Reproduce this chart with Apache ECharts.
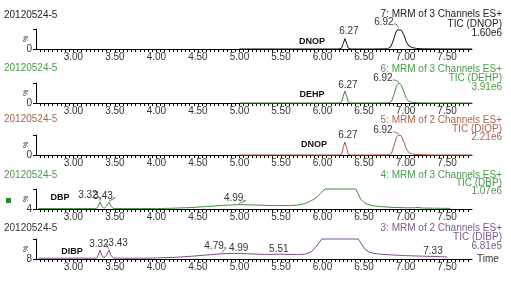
<!DOCTYPE html>
<html><head><meta charset="utf-8">
<script src="https://cdn.jsdelivr.net/npm/echarts@6/dist/echarts.min.js"></script>
<style>html,body{margin:0;padding:0;background:#fff}#c{width:511px;height:285px}</style>
</head><body><div id="c"></div>
<script>
// ---------- data ----------
const sampleName = '20120524-5';
const channelNames = ['7: MRM of 3 Channels ES+','6: MRM of 3 Channels ES+','5: MRM of 2 Channels ES+','4: MRM of 3 Channels ES+','3: MRM of 2 Channels ES+'];
const ticNames = ['TIC (DNOP)','TIC (DEHP)','TIC (DIOP)','TIC (DBP)','TIC (DIBP)'];
const intensities = ['1.60e6','3.91e6','2.21e6','1.07e6','6.81e5'];
const compounds = ['DNOP','DEHP','DNOP','DBP','DIBP'];
const yBaseLabels = ['0','0','0','4','8'];
const xTickLabels = ['3.00','3.50','4.00','4.50','5.00','5.50','6.00','6.50','7.00','7.50'];

const time1 = [5.00,5.50,6.00,6.20,6.23,6.25,6.27,6.29,6.31,6.34,6.60,6.78,6.82,6.85,6.88,6.90,6.92,6.95,6.98,7.01,7.04,7.08,7.13,7.20,7.50,7.80];
const pct1  = [0,0,0,0,4,28,52,28,4,0,0,1,10,40,80,96,100,94,70,35,15,7,3,1,0,0];

const time2 = [5.00,5.50,6.00,6.20,6.23,6.25,6.27,6.29,6.31,6.34,6.60,6.80,6.83,6.86,6.89,6.92,6.95,6.98,7.01,7.04,7.08,7.15,7.30,7.80];
const pct2  = [0,0,0,0,5,35,60,35,5,0,0,1,8,40,85,100,90,55,22,8,3,1,0,0];

const time3 = [5.00,5.50,6.00,6.20,6.23,6.25,6.27,6.29,6.31,6.34,6.60,6.80,6.83,6.86,6.89,6.92,6.95,6.98,7.01,7.04,7.08,7.15,7.30,7.80];
const pct3  = [0,0,0,0,5,38,65,38,5,0,0,1,8,45,90,100,95,65,30,12,5,2,0,0];

const time4 = [2.58,2.80,3.00,3.20,3.28,3.30,3.32,3.34,3.37,3.40,3.43,3.45,3.48,3.60,3.80,4.00,4.20,4.40,4.60,4.80,4.99,5.20,5.40,5.60,5.70,5.78,5.85,5.92,5.98,6.03,6.40,6.43,6.46,6.50,6.55,6.62,6.70,6.85,7.00,7.10,7.15,7.20,7.35,7.54];
const pct4  = [2,2,2,2,2,15,35,15,3,15,35,15,3,2,2,2,4,7,12,18,22,20,17,17,20,26,38,55,80,100,100,75,50,32,22,16,12,8,6,6,8,5,4,3];

const time5 = [2.58,2.80,3.00,3.20,3.28,3.30,3.32,3.34,3.37,3.40,3.43,3.45,3.48,3.60,3.80,4.00,4.20,4.40,4.60,4.79,4.90,4.99,5.10,5.30,5.51,5.70,5.80,5.87,5.93,5.99,6.43,6.47,6.51,6.56,6.62,6.70,6.85,7.00,7.20,7.33,7.45,7.50];
const pct5  = [4,4,4,4,4,20,45,20,5,20,45,20,5,4,4,5,8,13,20,26,28,28,26,23,24,22,25,38,65,100,100,75,50,35,28,24,20,17,14,13,11,10];

// peak labels: [time, percent, label]
const peaks1 = [[6.27,52,'6.27'],[6.92,100,'6.92']];
const peaks2 = [[6.27,60,'6.27'],[6.92,100,'6.92']];
const peaks3 = [[6.27,65,'6.27'],[6.92,100,'6.92']];
const peaks4 = [[3.32,35,'3.32'],[3.43,35,'3.43'],[4.99,22,'4.99']];
const peaks5 = [[3.32,45,'3.32'],[3.43,45,'3.43'],[4.79,26,'4.79'],[4.99,28,'4.99'],[5.51,24,'5.51'],[7.33,13,'7.33']];

// ---------- style / layout ----------
const times = [time1,time2,time3,time4,time5];
const pcts = [pct1,pct2,pct3,pct4,pct5];
const peaks = [peaks1,peaks2,peaks3,peaks4,peaks5];
const lineColors = ['#111111','#3d8f3d','#b0583c','#3d8f3d','#7a4f8c'];
const headColors = ['#222222','#4a9a4a','#a8664e','#4a9a4a','#333333'];
const rightColors = ['#222222','#4a9a4a','#a8664e','#4a9a4a','#7a5a8c'];
const baselines = [49,103,155,209,259];
const headY = [15,68,119,175,228];
const rightY = [[14,24,33],[69,78,87],[120,129,137],[175,183,191],[228,237,246]];
const compoundPos = [[312,42],[312,95],[314,145],[60,198],[72,252]];
// label centre offsets (px) from the peak point
const labelOffsets = [
  [[4,-7],[-15,-7]],
  [[3,-6],[-16,-5]],
  [[3,-7],[-16,-5]],
  [[-12,-7],[-6,-6],[-5,-6]],
  [[-1,-6],[9,-7],[-8,-8],[0,-5],[-3,-5],[0,-5]]
];
const FONT = 'Liberation Sans, Arial, sans-serif';

const grids=[], xAxes=[], yAxes=[], series=[], graphics=[];
for (let i=0;i<5;i++){
  grids.push({left:36, right:39, top:baselines[i]-20, height:20});
  xAxes.push({
    gridIndex:i, type:'value', min:2.55, max:7.8, interval:0.05,
    axisLine:{show:true,onZero:false,lineStyle:{color:'#000',width:1}},
    axisTick:{show:true,length:3,lineStyle:{color:'#000',width:1}},
    splitLine:{show:false},
    axisLabel:{show:true,margin:3,fontSize:10,fontFamily:FONT,color:'#333',
      showMinLabel:false,showMaxLabel:false,
      formatter:function(v){const s=v.toFixed(2);return xTickLabels.indexOf(s)>=0?s:'';}},
    name: i===4?'Time':'', nameLocation:'end', nameGap:5,
    nameTextStyle:{fontSize:10,fontFamily:FONT,color:'#333',verticalAlign:'middle'}
  });
  yAxes.push({
    gridIndex:i, type:'value', min:0, max:100, interval:100,
    axisLine:{show:true,lineStyle:{color:'#000',width:1}},
    axisTick:{show:true,length:3,lineStyle:{color:'#000'}},
    splitLine:{show:false},
    axisLabel:{show:true,margin:4,fontSize:10,fontFamily:FONT,color:'#333',
      formatter:(function(b){return function(v){return v===0?b:'';};})(yBaseLabels[i])},
    name:'%', nameLocation:'middle', nameGap:6, nameRotate:90, nameMoveOverlap:false,
    nameTextStyle:{fontSize:7,fontFamily:FONT,color:'#333'}
  });
  const data = times[i].map((t,k)=>[t,pcts[i][k]]);
  series.push({
    type:'line', xAxisIndex:i, yAxisIndex:i, data:data, showSymbol:false, clip:false,
    lineStyle:{color:lineColors[i],width:1}, itemStyle:{color:lineColors[i]}, animation:false,
    markPoint:{
      symbol:'circle', symbolSize:0, animation:false,
      label:{show:true,formatter:'{b}',fontSize:10,fontFamily:FONT,color:'#333'},
      data: peaks[i].map((p,k)=>({name:p[2],coord:[p[0],p[1]],
        label:{offset:labelOffsets[i][k],position:'inside'}}))
    }
  });
  graphics.push({type:'text',x:4,y:headY[i],style:{text:sampleName,fontSize:10,fontFamily:FONT,fill:headColors[i],verticalAlign:'middle'}});
  const rt=[channelNames[i],ticNames[i],intensities[i]];
  for (let k=0;k<3;k++) graphics.push({type:'text',x:502,y:rightY[i][k],style:{text:rt[k],fontSize:10,fontFamily:FONT,fill:rightColors[i],align:'right',verticalAlign:'middle'}});
  graphics.push({type:'text',x:compoundPos[i][0],y:compoundPos[i][1],style:{text:compounds[i],fontSize:9,fontWeight:'bold',fontFamily:FONT,fill:'#111',align:'center',verticalAlign:'middle'}});
}
graphics.push({type:'rect',shape:{x:6,y:198,width:5,height:5},style:{fill:'#2a8a2a'}});

const chart = echarts.init(document.getElementById('c'),null,{renderer:'canvas'});
chart.setOption({animation:false, grid:grids, xAxis:xAxes, yAxis:yAxes, series:series, graphic:graphics});

// leader lines from offset labels to their peaks (positions via the chart's own scales)
const leaders=[];
for (let i=0;i<5;i++){
  peaks[i].forEach((p,k)=>{
    const off=labelOffsets[i][k];
    if (Math.abs(off[0])<5) return;
    const pt=chart.convertToPixel({gridIndex:i},[p[0],p[1]]);
    const s=off[0]<0?1:-1;
    const sx=pt[0]+off[0]+s*10, sy=pt[1]+off[1]+2;
    leaders.push({type:'polyline',shape:{points:[[sx,sy],[sx+s*2,sy],[pt[0],pt[1]-1]]},style:{stroke:'#444',lineWidth:0.7,fill:null},silent:true});
  });
}
chart.setOption({graphic:graphics.concat(leaders)});
</script></body></html>
